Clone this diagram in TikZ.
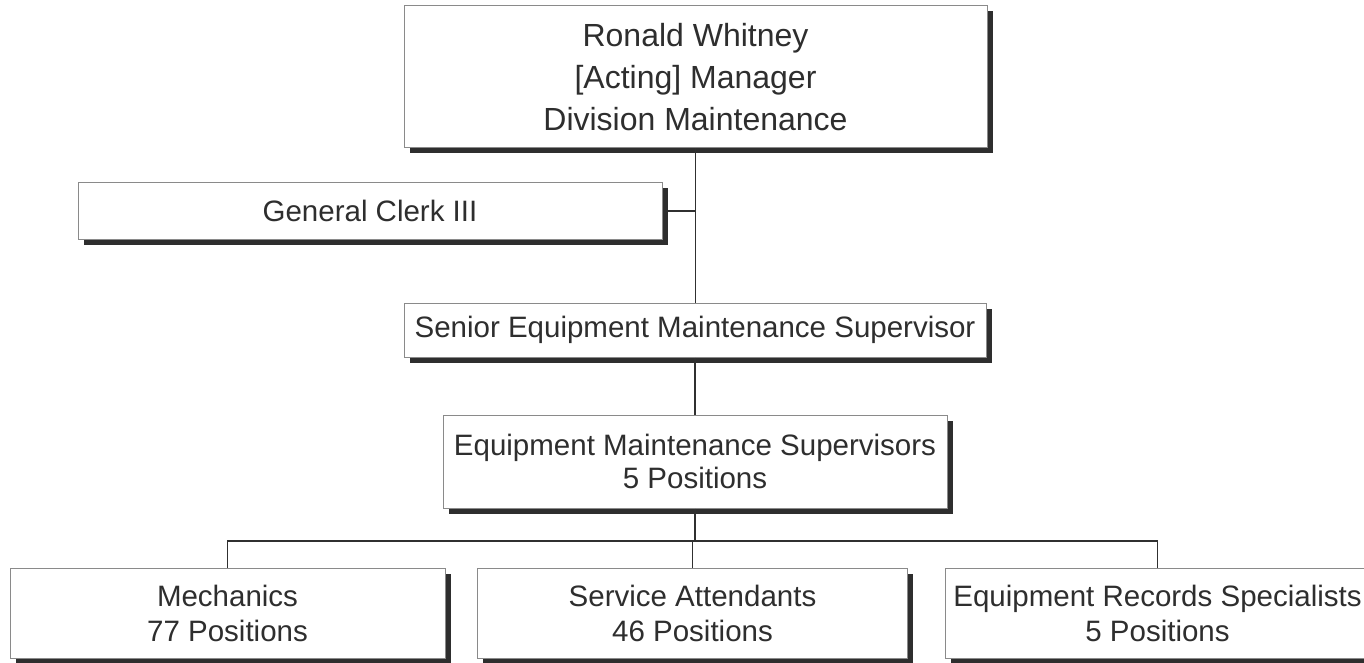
\documentclass[tikz,border=0pt]{standalone}
\usepackage{fontspec}
\setmainfont{Liberation Sans}
\usetikzlibrary{shadows}
\definecolor{txt}{HTML}{2E2E2E}
\definecolor{edge}{HTML}{8A8A8A}
\definecolor{shade}{HTML}{2E2E2E}
\definecolor{wire}{HTML}{303030}
\begin{document}
\begin{tikzpicture}[x=1pt,y=-1pt,
  orgbox/.style={draw=edge, line width=1pt, fill=white, text=txt, align=center,
    inner sep=0pt, rectangle,
    drop shadow={shadow xshift=5.5pt, shadow yshift=-5.5pt, fill=shade, opacity=1}},
  wireline/.style={draw=wire, line width=1.8pt}
]
\useasboundingbox (0,0) rectangle (1364,663);
\node[orgbox, minimum width=583pt, minimum height=142pt,
  font=\fontsize{32}{42}\selectfont] (top) at (695.5,77)
  {Ronald Whitney\\{[}Acting{]} Manager\\Division Maintenance};
\node[orgbox, minimum width=584pt, minimum height=56pt,
  font=\fontsize{29.5}{35}\selectfont] (clerk) at (370,211) {General Clerk III};
\node[orgbox, minimum width=582pt, minimum height=54pt,
  font=\fontsize{29.5}{35}\selectfont] (senior) at (695,330)
  {Senior Equipment Maintenance Supervisor};
\node[orgbox, minimum width=504pt, minimum height=93pt,
  font=\fontsize{29.5}{33}\selectfont] (ems) at (695,461.5)
  {Equipment Maintenance Supervisors\\5 Positions};
\node[orgbox, minimum width=435pt, minimum height=90pt,
  font=\fontsize{29.5}{35}\selectfont] (mech) at (227.5,613)
  {Mechanics\\77 Positions};
\node[orgbox, minimum width=430pt, minimum height=90pt,
  font=\fontsize{29.5}{35}\selectfont] (serv) at (692.5,613)
  {Service Attendants\\46 Positions};
\node[orgbox, minimum width=425pt, minimum height=90pt,
  font=\fontsize{29.5}{35}\selectfont] (ers) at (1157.5,613)
  {Equipment Records Specialists\\5 Positions};
\coordinate (bus) at (695,541);
\draw[wireline] (top.south) -- (top.south |- senior.north);
\draw[wireline] ([xshift=5.5pt]clerk.east) -- (clerk.east -| top.south);
\draw[wireline] (senior.south) -- (senior.south |- ems.north);
\draw[wireline] (ems.south) -- (bus);
\draw[wireline] (mech.north) |- (bus) -| (ers.north);
\draw[wireline] (serv.north) -- (serv.north |- bus);
\end{tikzpicture}
\end{document}
